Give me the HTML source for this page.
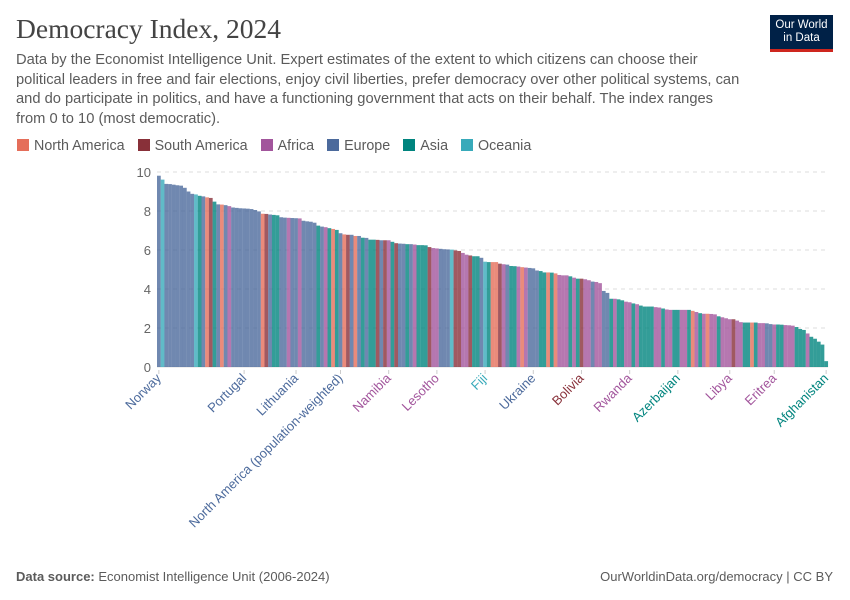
<!DOCTYPE html>
<html><head><meta charset="utf-8">
<style>
body{margin:0;background:#fff;font-family:"Liberation Sans",sans-serif;}
#wrap{position:relative;width:850px;height:600px;overflow:hidden;}
.t{position:absolute;white-space:nowrap;}
</style></head><body>
<div id="wrap">
<div class="t" style="left:16px;top:13px;font-family:'Liberation Serif',serif;font-size:27.5px;color:#444;">Democracy Index, 2024</div>
<div class="t" style="left:16px;top:51px;font-size:14.7px;line-height:19.5px;color:#5b5b5b;">Data by the Economist Intelligence Unit. Expert estimates of the extent to which citizens can choose their<br>political leaders in free and fair elections, enjoy civil liberties, prefer democracy over other political systems, can<br>and do participate in politics, and have a functioning government that acts on their behalf. The index ranges<br>from 0 to 10 (most democratic).</div>
<div style="position:absolute;left:770px;top:15px;width:63px;height:37px;background:#002147;border-bottom:3px solid #ce261e;box-sizing:border-box;color:#fff;font-size:11.5px;line-height:13px;text-align:center;padding-top:4px;">Our World<br>in Data</div>
<div id="legend" style="position:absolute;left:17px;top:138px;font-size:14.3px;color:#5b5b5b;"></div>
<svg id="chart" width="850" height="600" style="position:absolute;left:0;top:0;"></svg>
<div class="t" style="left:16px;top:569px;font-size:13px;color:#5b5b5b;"><b>Data source:</b> Economist Intelligence Unit (2006-2024)</div>
<div class="t" style="right:17px;top:569px;font-size:13px;color:#5b5b5b;">OurWorldinData.org/democracy | CC BY</div>
</div>
<script>
const values=[9.81,9.61,9.39,9.38,9.35,9.32,9.30,9.19,9.0,8.88,8.85,8.78,8.75,8.7,8.67,8.48,8.34,8.33,8.3,8.25,8.18,8.16,8.14,8.13,8.12,8.1,8.05,7.98,
7.86,7.85,7.82,7.8,7.78,7.68,7.66,7.65,7.64,7.63,7.62,7.5,7.47,7.45,7.4,7.25,7.2,7.17,7.12,7.08,7.03,6.86,6.8,6.78,6.78,6.72,6.72,6.63,6.62,6.53,6.53,6.52,
6.5,6.5,6.5,6.42,6.35,6.33,6.32,6.3,6.3,6.28,6.25,6.25,6.24,6.15,6.1,6.08,6.06,6.04,6.03,6.02,5.98,5.95,5.85,5.76,5.72,5.68,5.68,5.6,5.4,5.38,5.38,5.38,5.3,5.27,5.25,5.18,5.17,5.15,5.12,5.1,5.08,5.06,4.95,4.92,4.85,4.85,4.84,4.8,4.72,4.7,4.7,4.65,4.58,4.53,4.53,4.5,4.45,4.38,4.36,4.3,
3.9,3.8,3.5,3.5,3.47,3.42,3.35,3.32,3.26,3.22,3.15,3.1,3.1,3.1,3.07,3.05,3.0,2.95,2.93,2.93,2.93,2.93,2.93,2.93,2.88,2.82,2.76,2.73,2.73,2.72,2.7,2.6,2.55,2.5,2.45,2.45,2.38,2.3,2.28,2.28,2.28,2.28,2.25,2.25,2.24,2.2,2.18,2.18,2.17,2.15,2.14,2.12,2.05,1.95,1.9,1.72,1.55,1.45,1.3,1.15,0.3];
const regions=("E O E E E E E E E E O A E N S A E N E F E E E E E E E E "+
"N S E A A E E F E E F E E E E A E F A N A E N S E N E A E A A S "+
"E S F A S E E A E F A A A S F F E E E O S S F F S A A E O A N N S F E A A F N F E E E A A N A N F F F A F A S F F E F F "+
"E E A F A A F F A F A A A A F F A F F A A F F A N F A F N F F A F F F S F F A A N A F F E E F A A F F F A A A F A A A A A").trim().split(/\s+/);
const legendNames=["North America","South America","Africa","Europe","Asia","Oceania"];
const legendCodes=["N","S","F","E","A","O"];
const yTicks=[0,2,4,6,8,10];
const labelNames=["Norway","Portugal","Lithuania","North America (population-weighted)","Namibia","Lesotho","Fiji","Ukraine","Bolivia","Rwanda","Azerbaijan","Libya","Eritrea","Afghanistan"];
const labelIdx=[0,23,37,49,62,75,88,101,114,127,140,154,166,180];
const colors={N:"#E56E5A",S:"#883039",F:"#A2559C",E:"#4C6A9C",A:"#00847E",O:"#38AABA"};

const NS="http://www.w3.org/2000/svg";
const svg=document.getElementById('chart');
const X0=157,X1=828,Y0=367,Y1=172;
const n=values.length,bw=(X1-X0)/n;
const y=v=>Y0-(v/10)*(Y0-Y1);
const x=i=>X0+i*bw;
function mk(t,a){const e=document.createElementNS(NS,t);for(const k in a)e.setAttribute(k,a[k]);svg.appendChild(e);return e;}
yTicks.forEach(t=>{
  const g=mk('line',{x1:X0,x2:X1,y1:y(t),y2:y(t),stroke:'#ddd','stroke-dasharray':t?'4,4':'none'});
  
  
  const tx=mk('text',{x:151,y:y(t)+5,'text-anchor':'end','font-size':'13','fill':'#666','font-family':'Liberation Sans'});
  tx.textContent=t;
  
  
});
values.forEach((v,i)=>{
  const r=mk('rect',{x:x(i),y:y(v),width:bw+0.05,height:Y0-y(v),fill:colors[regions[i]]||'#4C6A9C','fill-opacity':'0.8'});
  
  
});
labelNames.forEach((nm,k)=>{
  const i=labelIdx[k],cx=x(i)+bw/2;
  const tk=mk('line',{x1:cx,x2:cx,y1:370,y2:374,stroke:'#ccc'});
  
  
  const tx=mk('text',{x:cx+3,y:379,'text-anchor':'end','font-size':'13','fill':colors[regions[i]]||'#4C6A9C','font-family':'Liberation Sans',transform:`rotate(-45 ${cx+3} 379)`});
  tx.textContent=nm;
  
  
});
const lg=document.getElementById('legend');
legendNames.forEach((nm,k)=>{
  const s=document.createElement('span');
  
  
  s.style.cssText='display:inline-block;margin-right:13px;';
  s.innerHTML=`<span style="display:inline-block;width:12px;height:12px;background:${colors[legendCodes[k]]};vertical-align:-1px;margin-right:5px"></span>${nm}`;
  lg.appendChild(s);
});
</script>
</body></html>
